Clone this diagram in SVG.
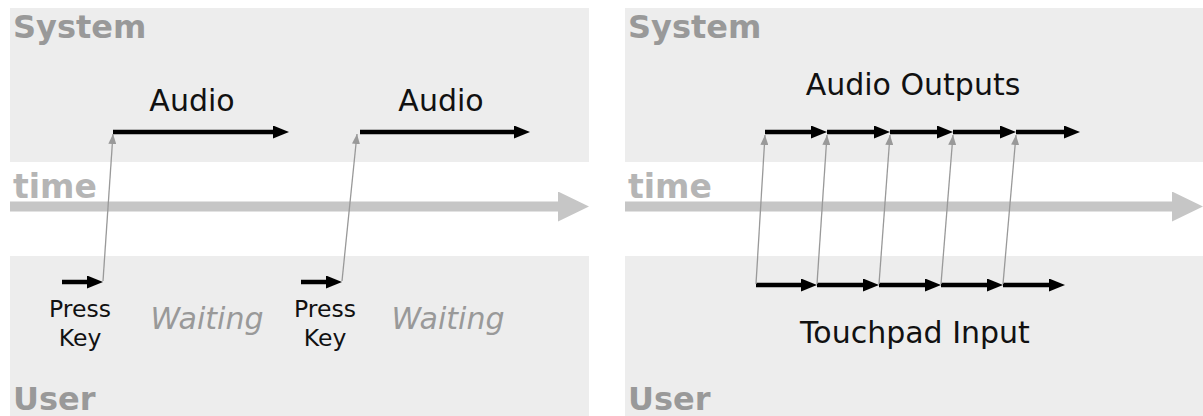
<svg xmlns="http://www.w3.org/2000/svg" width="1203" height="416" viewBox="0 0 1203 416">
<style>
.band{fill:#ededed}
.lane{font-family:"DejaVu Sans",Verdana,sans-serif;font-weight:bold;font-size:32px;fill:#999}
.time{font-family:"DejaVu Sans",Verdana,sans-serif;font-weight:bold;font-size:33px;fill:#b5b5b5}
.lbl{font-family:"DejaVu Sans",Verdana,sans-serif;font-size:30px;fill:#111;text-anchor:middle}
.key{font-family:"DejaVu Sans",Verdana,sans-serif;font-size:23.5px;fill:#111;text-anchor:middle}
.wait{font-family:"DejaVu Sans",Verdana,sans-serif;font-style:italic;font-size:30px;fill:#999;text-anchor:middle}
.blk{stroke:#000;stroke-width:4.5;fill:none;marker-end:url(#hb)}
.gry{stroke:#999;stroke-width:1.3;fill:none;marker-end:url(#hg)}
.tl{stroke:#c6c6c6;stroke-width:10;fill:none;marker-end:url(#ht)}
</style>
<defs>
<marker id="hb" markerUnits="userSpaceOnUse" markerWidth="16" markerHeight="13" refX="0" refY="6.5" orient="auto"><path d="M0,0 L16,6.5 L0,13 z" fill="#000"/></marker>
<marker id="hg" markerUnits="userSpaceOnUse" markerWidth="10" markerHeight="8" refX="10" refY="4" orient="auto"><path d="M0,0 L10,4 L0,8 z" fill="#999"/></marker>
<marker id="ht" markerUnits="userSpaceOnUse" markerWidth="31" markerHeight="30" refX="0" refY="15" orient="auto"><path d="M0,0 L31,15 L0,30 z" fill="#c6c6c6"/></marker>
</defs>
<rect width="1203" height="416" fill="#fff"/>
<g id="left-system"><rect class="band" x="10" y="8" width="579" height="154"/><text class="lane" x="13" y="38">System</text></g>
<g id="left-user"><rect class="band" x="10" y="256" width="579" height="160"/><text class="lane" x="13" y="410">User</text></g>
<g id="right-system"><rect class="band" x="625" y="8" width="578" height="154"/><text class="lane" x="628" y="38">System</text></g>
<g id="right-user"><rect class="band" x="625" y="256" width="578" height="160"/><text class="lane" x="628" y="410">User</text></g>
<g id="left-time"><text class="time" x="13" y="198">time</text></g>
<g id="right-time"><text class="time" x="628" y="198">time</text></g>
<g id="audio1"><text class="lbl" x="192" y="111">Audio</text></g>
<g id="audio2"><text class="lbl" x="441" y="111">Audio</text></g>
<g id="press1"><text class="key" x="80" y="317">Press</text><text class="key" x="80" y="346">Key</text></g>
<g id="press2"><text class="key" x="325" y="317">Press</text><text class="key" x="325" y="346">Key</text></g>
<g id="wait1"><text class="wait" x="207" y="329">Waiting</text></g>
<g id="wait2"><text class="wait" x="448" y="329">Waiting</text></g>
<g id="audio-outputs"><text class="lbl" x="913" y="95">Audio Outputs</text></g>
<g id="touchpad-input"><text class="lbl" x="915" y="343">Touchpad Input</text></g>
<g id="connectors">
<path class="tl" d="M10,206.5 H558"/>
<path class="tl" d="M625,206.5 H1172"/>
<path class="blk" d="M113,132 H273"/>
<path class="blk" d="M360,132 H514"/>
<path class="blk" d="M62,282 H87"/>
<path class="blk" d="M301,282 H326"/>
<path class="gry" d="M103,281 L113,134"/>
<path class="gry" d="M342,281 L357,134"/>
<path class="blk" d="M765,132 H811"/>
<path class="blk" d="M827,132 H874"/>
<path class="blk" d="M890,132 H937"/>
<path class="blk" d="M953,132 H1000"/>
<path class="blk" d="M1016,132 H1064"/>
<path class="blk" d="M756,285 H801"/>
<path class="blk" d="M817,285 H863"/>
<path class="blk" d="M879,285 H925"/>
<path class="blk" d="M941,285 H987"/>
<path class="blk" d="M1003,285 H1049"/>
<path class="gry" d="M756,284 L765,135"/>
<path class="gry" d="M817,284 L827,135"/>
<path class="gry" d="M879,284 L890,135"/>
<path class="gry" d="M941,284 L953,135"/>
<path class="gry" d="M1003,284 L1016,135"/>
</g>
</svg>
